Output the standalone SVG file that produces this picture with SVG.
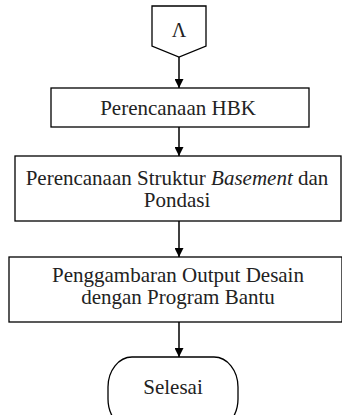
<svg xmlns="http://www.w3.org/2000/svg" width="342" height="415" viewBox="0 0 342 415">
<defs>
<style>
.shape{fill:#fff;stroke:#000;stroke-width:1.3}
.t{font-family:'Liberation Serif','Times New Roman',serif;font-size:21px;fill:#222;text-anchor:middle}
.c{stroke:#000;stroke-width:1.5;fill:none}
</style>
<marker id="ah" viewBox="0 0 10 10" refX="10" refY="5" markerWidth="10" markerHeight="9" markerUnits="userSpaceOnUse" orient="auto">
<path d="M0,0 L10,5 L0,10 z" fill="#000"/>
</marker>
</defs>
<rect width="342" height="415" fill="#fff"/>
<g id="connectors">
<line class="c" x1="179" y1="57" x2="179" y2="88" marker-end="url(#ah)"/>
<line class="c" x1="179" y1="127" x2="179" y2="156" marker-end="url(#ah)"/>
<line class="c" x1="179" y1="221" x2="179" y2="257" marker-end="url(#ah)"/>
<line class="c" x1="179" y1="322" x2="179" y2="357" marker-end="url(#ah)"/>
</g>
<g id="nodeA">
<polygon class="shape" points="152,6 206,6 206,46 179,57 152,46"/>
<text class="t" x="179" y="37" style="font-size:20px">Λ</text>
</g>
<g id="node1">
<rect class="shape" x="51" y="88" width="258" height="39"/>
<text class="t" x="178" y="115">Perencanaan HBK</text>
</g>
<g id="node2">
<rect class="shape" x="15" y="156" width="326" height="65"/>
<text class="t" x="177" y="185">Perencanaan Struktur <tspan font-style="italic">Basement</tspan> dan</text>
<text class="t" x="177" y="207">Pondasi</text>
</g>
<g id="node3">
<rect class="shape" x="9" y="257" width="333" height="65"/>
<text class="t" x="178" y="282">Penggambaran Output Desain</text>
<text class="t" x="178" y="304">dengan Program Bantu</text>
</g>
<g id="nodeEnd">
<rect class="shape" x="108" y="357" width="130" height="72" rx="24" ry="30"/>
<text class="t" x="173" y="394">Selesai</text>
</g>
</svg>
